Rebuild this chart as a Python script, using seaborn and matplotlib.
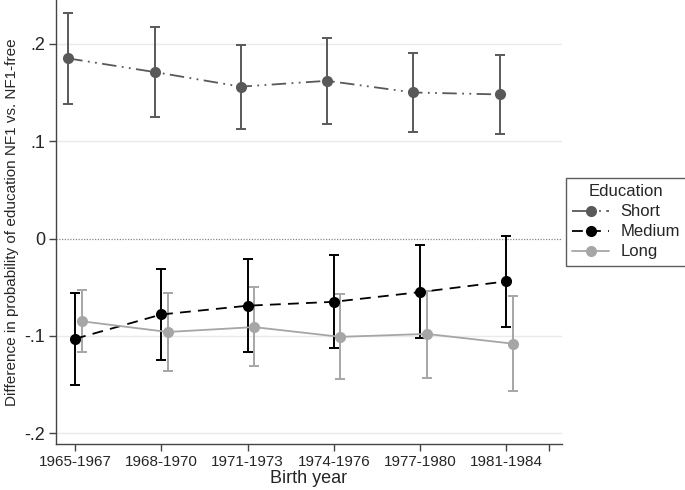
import numpy as np
import pandas as pd
import seaborn as sns
import matplotlib.pyplot as plt
from matplotlib.lines import Line2D

# birth cohorts on the x axis
cohorts = ['1965-1967', '1968-1970', '1971-1973', '1974-1976', '1977-1980', '1981-1984']
groups = ['Short', 'Medium', 'Long']

# point estimates and confidence bounds
short_est = [0.185, 0.171, 0.156, 0.162, 0.150, 0.148]
short_lo = [0.138, 0.125, 0.113, 0.118, 0.109, 0.107]
short_hi = [0.232, 0.217, 0.199, 0.206, 0.191, 0.189]

medium_est = [-0.103, -0.078, -0.069, -0.065, -0.055, -0.044]
medium_lo = [-0.150, -0.125, -0.117, -0.112, -0.102, -0.091]
medium_hi = [-0.056, -0.031, -0.021, -0.017, -0.007, 0.003]

long_est = [-0.085, -0.096, -0.091, -0.101, -0.098, -0.108]
long_lo = [-0.117, -0.136, -0.131, -0.144, -0.143, -0.157]
long_hi = [-0.053, -0.056, -0.050, -0.057, -0.054, -0.059]

ytick_vals = [-0.2, -0.1, 0, 0.1, 0.2]
ytick_labels = ['-.2', '-.1', '0', '.1', '.2']

# styling per group
colors = {'Short': '#595959', 'Medium': '#000000', 'Long': '#a6a6a6'}
offsets = {'Short': -0.08, 'Medium': 0.0, 'Long': 0.075}
dashes = {'Short': (8, 3, 1, 3, 1, 3), 'Medium': (6, 4), 'Long': ''}

rows = []
for g, est, lo, hi in [('Short', short_est, short_lo, short_hi),
                       ('Medium', medium_est, medium_lo, medium_hi),
                       ('Long', long_est, long_lo, long_hi)]:
    for i, c in enumerate(cohorts):
        rows.append({'cohort': c, 'pos': i + offsets[g], 'group': g,
                     'est': est[i], 'lo': lo[i], 'hi': hi[i]})
df = pd.DataFrame(rows)

sns.set_style('white')
plt.rcParams['font.family'] = ['Liberation Sans', 'DejaVu Sans']

fig = plt.figure(figsize=(6.85, 4.9), dpi=100)
ax = fig.add_axes([0.082, 0.094, 0.738, 0.906])

# gridlines and zero reference
for v in [-0.2, -0.1, 0.1, 0.2]:
    ax.axhline(v, color='#eaeaea', lw=1, zorder=0)
ax.axhline(0, color='#888888', lw=0.9, ls=(0, (1, 1.2)), zorder=0)

# confidence intervals
for g in groups:
    sub = df[df['group'] == g]
    ax.errorbar(sub['pos'], sub['est'],
                yerr=[sub['est'] - sub['lo'], sub['hi'] - sub['est']],
                fmt='none', ecolor=colors[g], elinewidth=1.4, capsize=3.8,
                capthick=1.4, zorder=2)

sns.lineplot(data=df, x='pos', y='est', hue='group', style='group',
             hue_order=groups, style_order=groups, palette=colors,
             dashes=dashes, markers={'Short': 'o', 'Medium': 'o', 'Long': 'o'},
             markersize=8, markeredgewidth=0, linewidth=1.3, ax=ax,
             legend=False, zorder=3)

ax.set_xlim(-0.22, 5.64)
ax.set_ylim(-0.211, 0.245)
ax.set_xticks(list(range(len(cohorts))) + [5.49])
ax.set_xticklabels(cohorts + [''], fontsize=11)
ax.set_yticks(ytick_vals)
ax.set_yticklabels(ytick_labels, fontsize=13)
ax.tick_params(axis='both', direction='out', length=5, width=1, color='#444444',
               bottom=True, left=True, pad=3)
ax.set_xlabel('Birth year', fontsize=13, labelpad=1)
ax.set_ylabel('Difference in probability of education NF1 vs. NF1-free', fontsize=11, labelpad=4)
sns.despine(ax=ax)
for s in ['left', 'bottom']:
    ax.spines[s].set_color('#444444')
    ax.spines[s].set_linewidth(1)

# legend
handles = [Line2D([], [], color=colors[g], marker='o', markersize=8, markeredgewidth=0,
                  lw=1.3, dashes=dashes[g] if dashes[g] else (None, None))
           for g in groups]
leg = ax.legend(handles, groups, title='Education', loc='center left',
                bbox_to_anchor=(1.008, 0.5), fontsize=12, title_fontsize=12,
                frameon=True, fancybox=False, edgecolor='#333333',
                handlelength=2.2, handletextpad=0.7, borderpad=0.4,
                labelspacing=0.3, borderaxespad=0)
leg.get_frame().set_linewidth(1)

fig.savefig('out.png', dpi=100)
